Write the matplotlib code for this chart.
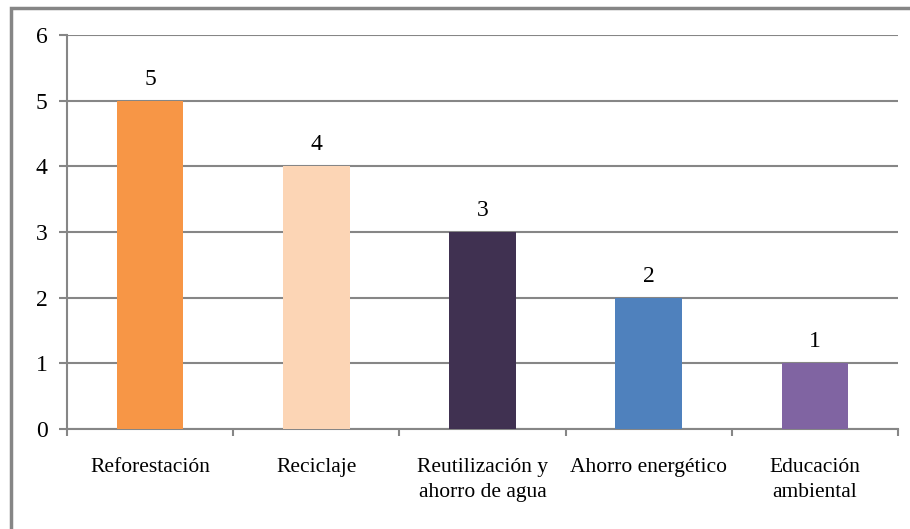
import matplotlib

matplotlib.use("Agg")
from matplotlib import pyplot as plt
from matplotlib.patches import Rectangle

categories = ["Reforestación", "Reciclaje", "Reutilización y\nahorro de agua",
              "Ahorro energético", "Educación\nambiental"]
values = [5, 4, 3, 2, 1]
colors = ["#F79646", "#FCD5B5", "#403151", "#4F81BD", "#8064A2"]
y_ticks = [0, 1, 2, 3, 4, 5, 6]

GRID = "#868686"
FS = 15.5
FS_NUM = 17

plt.rcParams["font.family"] = "serif"
plt.rcParams["font.serif"] = ["Liberation Serif", "DejaVu Serif"]

fig = plt.figure(figsize=(9.10, 5.29), dpi=100)
ax = fig.add_axes([67 / 910, 1 - 429 / 529, 831 / 910, 394 / 529])

xs = list(range(len(categories)))
ax.bar(xs, values, width=0.4, color=colors, zorder=3)
for x, v in zip(xs, values):
    ax.text(x, v + 0.17, str(v), ha="center", va="bottom", fontsize=FS_NUM)

ax.set_xlim(-0.5, len(categories) - 0.5)
ax.set_ylim(0, 6)
ax.set_yticks(y_ticks)
ax.set_yticklabels([str(t) for t in y_ticks], fontsize=FS_NUM)
ax.yaxis.grid(True, color=GRID, linewidth=1.5, zorder=0)
ax.tick_params(axis="y", length=6, width=1.5, color=GRID, pad=8)

# category labels sit between boundary ticks
ax.set_xticks([i - 0.5 for i in range(len(categories) + 1)])
ax.set_xticklabels([])
ax.set_xticks(xs, minor=True)
ax.set_xticklabels(categories, minor=True, fontsize=FS, linespacing=1.4)
ax.tick_params(axis="x", which="major", length=5, width=1.5, color=GRID)
ax.tick_params(axis="x", which="minor", length=0, pad=21)

for side in ("top", "right"):
    ax.spines[side].set_visible(False)
for side in ("left", "bottom"):
    ax.spines[side].set_color(GRID)
    ax.spines[side].set_linewidth(1.5)

# chart area border
fig.patches.append(Rectangle((11 / 910, -0.1), 1.2, 1 - 8 / 529 + 0.1,
                             transform=fig.transFigure, fill=False,
                             edgecolor=GRID, linewidth=2.5))

fig.savefig("out.png", dpi=100)
